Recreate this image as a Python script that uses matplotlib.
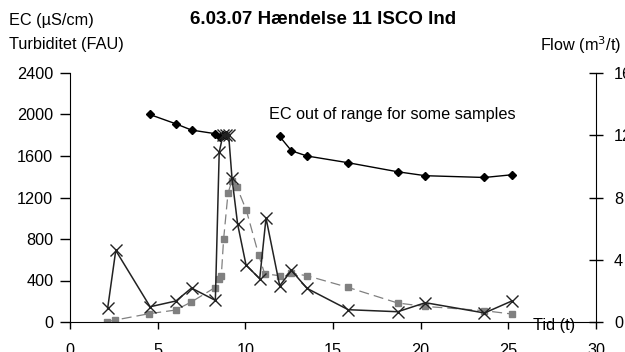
import numpy as np
import matplotlib.pyplot as plt

plt.rcParams['font.family'] = ['Liberation Sans', 'DejaVu Sans']

# EC (uS/cm) - two segments, gap where EC was out of range
ec_t = [4.55, 6.04, 6.93, 8.29, 8.57, 8.75, 8.9, np.nan, 11.96, 12.63, 13.52, 15.87, 18.69, 20.27, 23.64, 25.2]
ec_val = [2000, 1910, 1850, 1815, 1785, 1800, 1800, np.nan, 1788, 1650, 1600, 1535, 1448, 1410, 1393, 1419]

# Turbiditet (FAU)
turb_t = [2.11, 2.59, 4.51, 6.02, 6.91, 8.25, 8.48, 8.63, 8.76, 9.01, 9.22, 9.52, 10.06, 10.76, 11.1,
          11.96, 12.63, 13.52, 15.87, 18.69, 20.27, 23.64, 25.2]
turb_val = [3, 19, 80, 115, 192, 330, 417, 446, 796, 1239, 1355, 1300, 1075, 648, 465,
            446, 470, 446, 333, 183, 150, 109, 77]

# Flow (m3/t)
flow_t = [2.15, 2.61, 4.57, 6.04, 6.93, 8.29, 8.51, 8.72, 8.9, 9.05, 9.24, 9.56, 10.04, 10.82, 11.18,
          11.96, 12.63, 13.52, 15.87, 18.69, 20.27, 23.64, 25.2]
flow_val = [0.9, 4.6, 0.98, 1.35, 2.18, 1.39, 10.9, 12.0, 12.0, 12.0, 9.23, 6.29, 3.66, 2.78, 6.68,
            2.33, 3.31, 2.16, 0.79, 0.66, 1.24, 0.58, 1.35]

fs = 11.7

fig = plt.figure(figsize=(6.25, 3.52), dpi=100)
ax = fig.add_axes([70/625, 30/352, 526/625, 249/352])
ax2 = ax.twinx()

ax.plot(turb_t, turb_val, color='#808080', ls=(0, (8, 4)), lw=0.9, marker='s', ms=4,
        mfc='#808080', mec='#808080', zorder=2)
ax.plot(ec_t, ec_val, color='black', lw=1.0, marker='D', ms=4, zorder=3)
ax2.plot(flow_t, flow_val, color='#222222', lw=1.1, marker='x', ms=8, mew=1.0, zorder=3)

ax.set_xlim(0, 30)
ax.set_ylim(0, 2400)
ax2.set_ylim(0, 16)
ax.set_xticks(range(0, 31, 5))
ax.set_yticks(range(0, 2401, 400))
ax2.set_yticks(range(0, 17, 4))

for a in (ax, ax2):
    a.spines['top'].set_visible(False)
ax.spines['right'].set_visible(False)
ax2.spines['left'].set_visible(False)
ax2.spines['bottom'].set_visible(False)

ax.tick_params(axis='y', direction='out', length=7, width=1, pad=5, labelsize=fs)
ax.tick_params(axis='x', direction='out', length=5, width=1, pad=10, labelsize=fs)
ax2.tick_params(axis='y', direction='inout', length=10, width=1, pad=8, labelsize=fs)

ax.text(0.88, -0.015, 'Tid (t)', transform=ax.transAxes, fontsize=fs, va='center', ha='left')
ax.text(11.35, 2000, 'EC out of range for some samples', fontsize=fs, va='center', ha='left')

fig.text(323/625, 1 - 20/352, '6.03.07 Hændelse 11 ISCO Ind', fontsize=13.5, fontweight='bold',
         ha='center', va='center')
fig.text(9/625, 1 - 20/352, 'EC (µS/cm)', fontsize=fs, ha='left', va='center')
fig.text(9/625, 1 - 44/352, 'Turbiditet (FAU)', fontsize=fs, ha='left', va='center')
fig.text(540/625, 1 - 45/352, 'Flow (m$^3$/t)', fontsize=fs, ha='left', va='center')

fig.savefig('out.png', dpi=100)
